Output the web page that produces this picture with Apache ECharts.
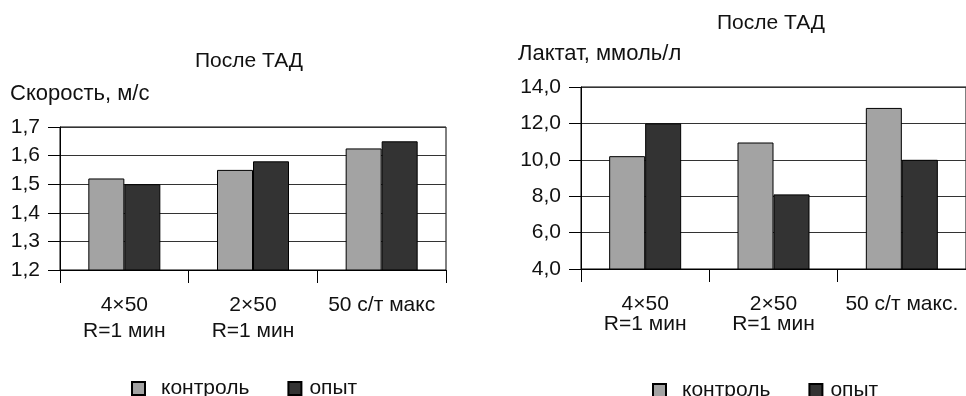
<!DOCTYPE html>
<html>
<head>
<meta charset="utf-8">
<script src="https://cdn.jsdelivr.net/npm/echarts@6/dist/echarts.min.js"></script>
<style>
  html, body { margin: 0; padding: 0; background: #fff; }
  #chart { width: 966px; height: 396px; }
</style>
</head>
<body>
<div id="chart"></div>
<script>
// Categories (test series)
const speedCategories = ['4×50\nR=1 мин', '2×50\nR=1 мин', '50 с/т макс'];
const lactateCategories = ['4×50\nR=1 мин', '2×50\nR=1 мин', '50 с/т макс.'];

// Swimming speed, m/s
const speedControl = [1.52, 1.55, 1.625];
const speedExperiment = [1.50, 1.58, 1.65];

// Blood lactate, mmol/l
const lactateControl = [10.2, 10.95, 12.85];
const lactateExperiment = [12.0, 8.1, 10.0];

const seriesNames = ['контроль', 'опыт'];
const titleText = 'После ТАД';
const speedAxisName = 'Скорость, м/с';
const lactateAxisName = 'Лактат, ммоль/л';

const FONT = '"Liberation Sans", Arial, sans-serif';
const FS = 21;
const INK = '#111';
const GRAY = '#a3a3a3';
const DARK = '#333333';

const commaFmt = v => v.toFixed(1).replace('.', ',');

function textTitle(text, left, top, size) {
  return {
    text, left, top, padding: 0,
    textStyle: { fontFamily: FONT, fontSize: size || FS, fontWeight: 'normal', color: INK, lineHeight: 24 }
  };
}

function yAxisCfg(gridIndex, min, max, interval) {
  return {
    type: 'value', gridIndex, min, max, interval,
    axisLine: { show: true, lineStyle: { color: '#000', width: 1 } },
    axisTick: { show: true, length: 12, lineStyle: { color: '#000', width: 1 } },
    axisLabel: { formatter: commaFmt, margin: 20, fontFamily: FONT, fontSize: FS, color: INK },
    splitLine: { show: true, lineStyle: { color: '#333', width: 1.2 } }
  };
}

function xAxisCfg(gridIndex, data, lineHeight, margin) {
  return {
    type: 'category', gridIndex, data,
    axisLine: { show: true, lineStyle: { color: '#000', width: 1 } },
    axisTick: { show: true, length: 13, alignWithLabel: false, lineStyle: { color: '#000', width: 1 } },
    axisLabel: { interval: 0, margin, fontFamily: FONT, fontSize: FS, color: INK, lineHeight, align: 'center' },
    splitLine: { show: false }
  };
}

function barSeries(name, data, idx, color) {
  return {
    type: 'bar', name, data,
    xAxisIndex: idx, yAxisIndex: idx,
    barWidth: 36, barGap: '0%',
    itemStyle: { color, borderColor: '#000', borderWidth: 1 },
    emphasis: { disabled: true },
    animation: false
  };
}

function legendCfg(left, top, pads) {
  return {
    left, top, orient: 'horizontal', padding: 0,
    itemWidth: 13, itemHeight: 13, itemGap: 38, icon: 'rect',
    selectedMode: false,
    textStyle: { fontFamily: FONT, fontSize: FS, color: INK },
    data: [
      { name: seriesNames[0], textStyle: { padding: [0, 0, 0, pads[0]] } },
      { name: seriesNames[1], textStyle: { padding: [0, 0, 0, pads[1]] } }
    ]
  };
}

const chart = echarts.init(document.getElementById('chart'), null, { renderer: 'canvas' });
chart.setOption({
  backgroundColor: '#fff',
  animation: false,
  title: [
    textTitle(titleText, 195, 49),
    textTitle(speedAxisName, 10, 82, 22),
    textTitle(titleText, 717, 11),
    textTitle(lactateAxisName, 518, 42, 22)
  ],
  grid: [
    { left: 60, top: 127, width: 386, height: 143, show: true, borderColor: '#000', borderWidth: 1, containLabel: false },
    { left: 581, top: 87, width: 387, height: 182, show: true, borderColor: '#000', borderWidth: 1, containLabel: false }
  ],
  xAxis: [
    xAxisCfg(0, speedCategories, 26, 22),
    xAxisCfg(1, lactateCategories, 20, 25)
  ],
  yAxis: [
    yAxisCfg(0, 1.2, 1.7, 0.1),
    yAxisCfg(1, 4, 14, 2)
  ],
  legend: [
    legendCfg(131, 378, [11, 3]),
    legendCfg(652, 380, [11, 3])
  ],
  series: [
    barSeries(seriesNames[0], speedControl, 0, GRAY),
    barSeries(seriesNames[1], speedExperiment, 0, DARK),
    barSeries(seriesNames[0], lactateControl, 1, GRAY),
    barSeries(seriesNames[1], lactateExperiment, 1, DARK)
  ]
});
</script>
</body>
</html>
